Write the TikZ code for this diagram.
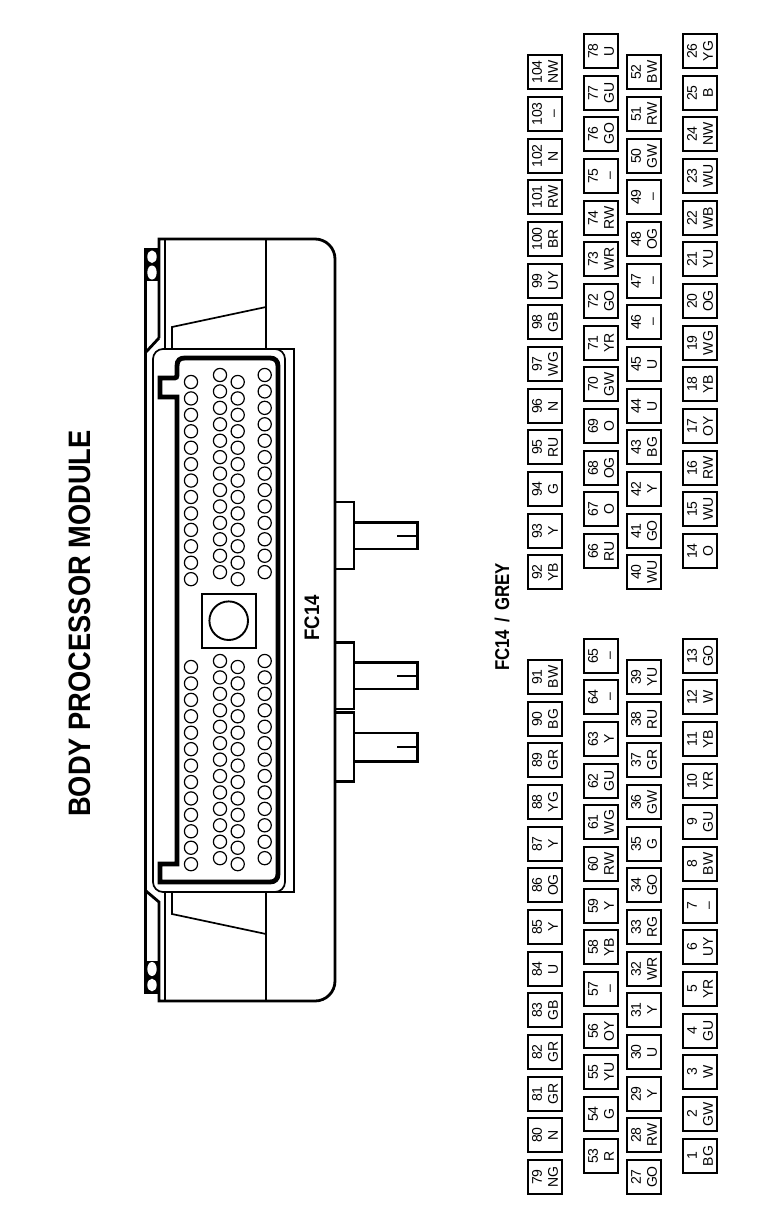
\documentclass[tikz,border=0pt]{standalone}
\usepackage{fontspec}
\setmainfont{Liberation Sans}
\tikzset{
  pinbox/.style={draw=black,line width=2.4pt,rectangle,rotate=90,minimum size=34pt,inner sep=0pt,align=center,
    font=\fontsize{14}{16}\selectfont},
  pincirc/.style={draw=black,line width=1.2pt},
  hull/.style={draw=black,line width=2.8pt,line join=miter},
  thinl/.style={draw=black,line width=1.7pt},
  contour/.style={draw=black,line width=4.8pt,line join=miter},
  heading/.style={rotate=90,inner sep=0pt,font=\bfseries},
  peg/.style={fill=white,draw=none},
}
\begin{document}
\begin{tikzpicture}[x=1pt,y=-1pt]
\useasboundingbox (0,0) rectangle (784,1218);
\fill[white] (0,0) rectangle (784,1218);
% titles
\node[heading,font=\bfseries\fontsize{31}{31}\selectfont] (title) at (80,623.5) {\scalebox{0.88}[1]{BODY PROCESSOR MODULE}};
\node[heading,font=\bfseries\fontsize{21}{21}\selectfont] (fcsmall) at (312,618) {\scalebox{0.885}[1]{FC14}};
\node[heading,font=\bfseries\fontsize{20}{20}\selectfont] (fcgrey) at (502,617) {\scalebox{0.84}[1]{FC14\hspace{3pt} / \hspace{3pt}GREY}};
% hull
\draw[hull] (159,338) -- (159,239) -- (315,239) arc[start angle=-90,end angle=0,radius=20] -- (335,981)
  arc[start angle=0,end angle=90,radius=20] -- (159,1001) -- (159,902) -- (146,891);
\draw[hull] (159,338) -- (146,352);
\draw[hull] (159,249) -- (145.5,249) -- (145.5,993) -- (159,993);
% peg blocks
\fill[black] (145,249) rectangle (159,281);
\fill[black] (145,961) rectangle (159,993);
\path[peg] (152,256.7) ellipse[x radius=4.7,y radius=6.3];
\path[peg] (152,272.5) ellipse[x radius=4.7,y radius=7];
\path[peg] (152,969) ellipse[x radius=4.7,y radius=7];
\path[peg] (152,985) ellipse[x radius=4.7,y radius=6.3];
% internal lines
\draw[thinl] (165,239) -- (165,349);
\draw[thinl] (165,892) -- (165,1001);
\draw[thinl] (266,239) -- (266,349);
\draw[thinl] (266,892) -- (266,1001);
\draw[thinl] (172,349) -- (172,327) -- (266,307);
\draw[thinl] (172,892) -- (172,914) -- (266,934);
% module outline
\fill[white] (153,349) rectangle (294,892);
\draw[thinl] (275,349) -- (294,349) -- (294,892) -- (275,892);
\draw[thinl,rounded corners=10pt] (153,349) rectangle (285,892);
% thick contour
\draw[contour] (160,378) -- (172,378)
  .. controls (177,378) and (177,378) .. (177,372) -- (177,366)
  .. controls (177,360) and (180,358) .. (185,358) -- (270,358)
  .. controls (275,358) and (278,361) .. (278,366) -- (278,874)
  .. controls (278,879) and (275,882) .. (270,882) -- (160,882) -- (160,864) -- (177,864) -- (177,397) -- (160,397) -- cycle;
% contact circles
\foreach \cx/\sy in {191/382,220/375,237.7/382,264.7/375,191/667,220/661,237.7/667,264.7/661}
  \foreach \i in {0,...,12}
    \draw[pincirc] (\cx,{\sy+16.43*\i}) circle[radius=6.6pt];
% central key
\draw[thinl] (201.7,594) rectangle (256.3,648);
\draw[draw=black,line width=1.9pt] (228.7,620.7) circle[radius=19.3pt];
% tabs
\foreach \top/\bot/\at/\ab/\am in {502/569/522.7/549/535.7,642.7/709/662.7/689/675.7,712.7/781.7/733/761.7/746.7}{
  \draw[hull] (335,\top) -- (354,\top) -- (354,\bot) -- (335,\bot);
  \draw[hull] (354,\at) -- (417.5,\at) -- (417.5,\ab) -- (354,\ab);
  \draw[thinl] (397,\am) -- (417.5,\am);
}
% pin boxes, column A
\foreach \n/\y/\c in {104/72/NW,103/114/–,102/156/N,101/197/RW,100/239/BR,99/281/UY,98/322/GB,97/364/WG,96/406/N,95/447/RU,94/489/G,93/531/Y,92/572/YB,91/677/BW,90/719/BG,89/760/GR,88/802/YG,87/844/Y,86/885/OG,85/927/Y,84/969/U,83/1010/GB,82/1052/GR,81/1094/GR,80/1135/N,79/1177/NG}
  \node[pinbox] (p\n) at (545,\y) {\n\\\c};
% column B
\foreach \n/\y/\c in {78/51/U,77/93/GU,76/134/GO,75/176/–,74/218/RW,73/259/WR,72/301/GO,71/343/YR,70/384/GW,69/426/O,68/468/OG,67/509/O,66/551/RU,65/656/–,64/697/–,63/739/Y,62/781/GU,61/822/WG,60/864/RW,59/906/Y,58/947/YB,57/989/–,56/1031/OY,55/1072/YU,54/1114/G,53/1156/R}
  \node[pinbox] (p\n) at (601,\y) {\n\\\c};
% column C
\foreach \n/\y/\c in {52/72/BW,51/114/RW,50/156/GW,49/197/–,48/239/OG,47/281/–,46/322/–,45/364/U,44/406/U,43/447/BG,42/489/Y,41/531/GO,40/572/WU,39/677/YU,38/719/RU,37/760/GR,36/802/GW,35/844/G,34/885/GO,33/927/RG,32/969/WR,31/1010/Y,30/1052/U,29/1094/Y,28/1135/RW,27/1177/GO}
  \node[pinbox] (p\n) at (644,\y) {\n\\\c};
% column D
\foreach \n/\y/\c in {26/51/YG,25/93/B,24/134/NW,23/176/WU,22/218/WB,21/259/YU,20/301/OG,19/343/WG,18/384/YB,17/426/OY,16/468/RW,15/509/WU,14/551/O,13/656/GO,12/697/W,11/739/YB,10/781/YR,9/822/GU,8/864/BW,7/906/–,6/947/UY,5/989/YR,4/1031/GU,3/1072/W,2/1114/GW,1/1156/BG}
  \node[pinbox] (p\n) at (700,\y) {\n\\\c};
\end{tikzpicture}
\end{document}
